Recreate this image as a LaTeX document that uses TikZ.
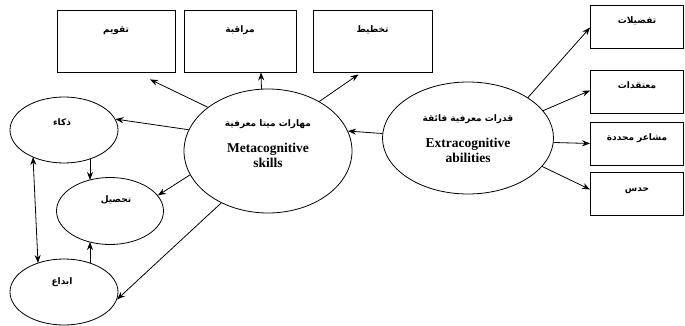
\documentclass[tikz,border=0pt]{standalone}
\usepackage{fontspec}
\usepackage{tikz}
\usetikzlibrary{arrows.meta, shapes.geometric, calc, }
\setmainfont{Liberation Serif}
\newfontfamily\arabicfont[Script=Arabic]{DejaVu Sans}
\TeXXeTstate=1
\newcommand{\artxt}[1]{{\arabicfont\bfseries\fontsize{9}{11}\selectfont\beginR #1\endR}}
\tikzset{
  topbox/.style={draw, line width=0.8pt, minimum width=#1, minimum height=62pt,
    text height=8pt, text depth=25pt, inner sep=0pt},
  sidebox/.style={draw, line width=0.8pt, minimum width=93pt, minimum height=43pt,
    text height=8pt, text depth=13pt, inner sep=0pt},
  oval/.style={draw, ellipse, line width=0.8pt, inner sep=0pt},
  otxt/.style={align=center, inner sep=0pt, font=\bfseries\fontsize{13.5}{15}\selectfont},
  arr/.style={-{Stealth[length=8pt, width=6pt]}, line width=0.8pt},
}

\begin{document}
\begin{tikzpicture}[x=1pt, y=-1pt]
    \useasboundingbox (0,0) rectangle (685,326);

    % boxes on top
    \node[topbox=118pt] (taqwim) at (116,41) {\artxt{تقويم}};
    \node[topbox=112pt] (muraqaba) at (240,41) {\artxt{مراقبة}};
    \node[topbox=119pt] (takhtit) at (372.5,41) {\artxt{تخطيط}};

    % boxes on the right
    \node[sidebox] (tafdilat) at (637,26.5) {\artxt{تفضيلات}};
    \node[sidebox] (mutaqadat) at (637,91.5) {\artxt{معتقدات}};
    \node[sidebox] (mashaer) at (637,143.5) {\artxt{مشاعر محددة}};
    \node[sidebox] (hads) at (637,193.5) {\artxt{حدس}};

    % ovals
    \node[oval, minimum width=168pt, minimum height=124pt] (meta) at (268,151) {};
    \node[otxt] (metaT) at (268,144) {\artxt{مهارات ميتا معرفية}\\[11pt]
        \textbf{Metacognitive}\\ \textbf{skills}};

    \node[oval, minimum width=171pt, minimum height=112pt] (extra) at (468,138) {};
    \node[otxt] (extraT) at (468,139) {\artxt{قدرات معرفية فائقة}\\[11pt]
        \textbf{Extracognitive}\\ \textbf{abilities}};

    \node[oval, minimum width=108pt, minimum height=66pt] (zaka) at (64,130) {};
    \node[otxt] (zakaT) at (62,122) {\artxt{ذكاء}};

    \node[oval, minimum width=107pt, minimum height=67pt] (tahsil) at (110,211) {};
    \node[otxt] (tahsilT) at (116,200) {\artxt{تحصيل}};

    \node[oval, minimum width=108pt, minimum height=66pt] (ibda) at (64,292) {};
    \node[otxt] (ibdaT) at (62,282) {\artxt{ابداع}};

    % arrows out of the metacognitive oval
    \draw[arr] (meta.144) -- ($(taqwim.south)+(34,7)$);
    \draw[arr] (meta.96) -- ($(muraqaba.south)+(21,0)$);
    \draw[arr] (meta.44) -- ($(takhtit.south)+(-14,2)$);
    \draw[arr] (meta.165) -- (zaka.12);
    \draw[arr] (meta.197) -- (tahsil.18);
    \draw[arr] (meta.228) -- (ibda.-8);

    \draw[arr] (extra.177) -- (meta.14);

    % arrows between the small ovals
    \draw[arr] ($(zaka.center)+(26,29)$) -- ($(tahsil.center)+(-20,-31)$);
    \draw[arr] ($(ibda.center)+(26,-29)$) -- ($(tahsil.center)+(-20,31)$);
    \draw[arr, {Stealth[length=8pt, width=6pt]}-{Stealth[length=8pt, width=6pt]}]
        ($(zaka.center)+(-31,27)$) -- ($(ibda.center)+(-26,-29)$);

    % arrows out of the extracognitive oval
    \draw[arr] (extra.34) -- ($(tafdilat.west)+(0,1)$);
    \draw[arr] (extra.20) -- ($(mutaqadat.west)+(0,-1)$);
    \draw[arr] (extra.-3) -- (mashaer.west);
    \draw[arr] (extra.-21) -- ($(hads.west)+(0,-4)$);

\end{tikzpicture}
\end{document}
